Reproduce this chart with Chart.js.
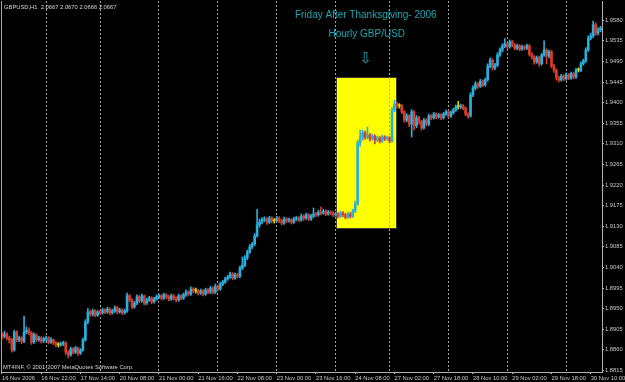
<!DOCTYPE html>
<html>
<head>
<meta charset="utf-8">
<script src="https://cdn.jsdelivr.net/npm/chart.js@4.4.1/dist/chart.umd.min.js"></script>
<style>
  html, body { margin: 0; padding: 0; background: #000; }
</style>
</head>
<body>
<canvas id="chart" width="625" height="382"></canvas>
<script>
// GBPUSD H1, 16 Nov 2006 06:00 .. 30 Nov 2006 14:00, one entry per hourly bar
const opens = [
  1.8893,1.8890,1.8895,1.8886,1.8882,1.8860,1.8899,1.8882,1.8886,1.8879,
  1.8899,1.8903,1.8897,1.8877,1.8893,1.8882,1.8886,1.8879,1.8884,1.8886,
  1.8877,1.8882,1.8875,1.8871,1.8871,1.8873,1.8875,1.8855,1.8849,1.8862,
  1.8855,1.8864,1.8853,1.8860,1.8882,1.8921,1.8943,1.8938,1.8945,1.8936,
  1.8943,1.8941,1.8947,1.8943,1.8949,1.8941,1.8945,1.8952,1.8943,1.8947,
  1.8941,1.8945,1.8978,1.8969,1.8954,1.8962,1.8976,1.8967,1.8978,1.8962,
  1.8969,1.8973,1.8965,1.8971,1.8976,1.8978,1.8973,1.8980,1.8976,1.8971,
  1.8978,1.8973,1.8969,1.8978,1.8973,1.8980,1.8986,1.8982,1.8993,1.8989,
  1.8989,1.8984,1.8989,1.8982,1.8991,1.8986,1.8995,1.8986,1.8999,1.8993,
  1.9004,1.9008,1.9015,1.9019,1.9026,1.9017,1.9024,1.9021,1.9039,1.9045,
  1.9061,1.9074,1.9085,1.9091,1.9109,1.9133,1.9139,1.9144,1.9146,1.9139,
  1.9148,1.9142,1.9142,1.9148,1.9142,1.9137,1.9146,1.9142,1.9144,1.9139,
  1.9146,1.9148,1.9144,1.9152,1.9148,1.9155,1.9146,1.9152,1.9157,1.9155,
  1.9161,1.9159,1.9163,1.9157,1.9161,1.9159,1.9155,1.9157,1.9152,1.9159,
  1.9155,1.9150,1.9157,1.9152,1.9163,1.9179,1.9312,1.9323,1.9334,1.9325,
  1.9329,1.9321,1.9327,1.9319,1.9323,1.9316,1.9325,1.9321,1.9323,1.9316,
  1.9384,1.9397,1.9393,1.9393,1.9380,1.9362,1.9371,1.9353,1.9380,1.9349,
  1.9367,1.9358,1.9345,1.9362,1.9353,1.9371,1.9367,1.9375,1.9369,1.9373,
  1.9367,1.9375,1.9380,1.9371,1.9378,1.9384,1.9391,1.9391,1.9393,1.9388,
  1.9375,1.9371,1.9417,1.9432,1.9441,1.9436,1.9447,1.9439,1.9450,1.9480,
  1.9493,1.9476,1.9482,1.9504,1.9515,1.9524,1.9528,1.9522,1.9533,1.9526,
  1.9519,1.9524,1.9517,1.9522,1.9519,1.9524,1.9506,1.9500,1.9489,1.9498,
  1.9485,1.9504,1.9515,1.9502,1.9511,1.9480,1.9471,1.9454,1.9450,1.9458,
  1.9452,1.9461,1.9454,1.9463,1.9456,1.9471,1.9471,1.9485,1.9491,1.9515,
  1.9541,1.9546,1.9570,1.9552,1.9559
];
const highs = [
  1.8898,1.8901,1.8898,1.8890,1.8885,1.8903,1.8902,1.8890,1.8889,1.8934,
  1.8910,1.8908,1.8900,1.8897,1.8895,1.8890,1.8889,1.8888,1.8890,1.8889,
  1.8887,1.8884,1.8878,1.8876,1.8877,1.8879,1.8878,1.8858,1.8866,1.8865,
  1.8868,1.8866,1.8863,1.8886,1.8926,1.8950,1.8947,1.8949,1.8948,1.8946,
  1.8947,1.8951,1.8950,1.8953,1.8952,1.8949,1.8956,1.8955,1.8951,1.8950,
  1.8949,1.8984,1.8981,1.8972,1.8966,1.8980,1.8979,1.8982,1.8980,1.8973,
  1.8977,1.8976,1.8975,1.8980,1.8982,1.8981,1.8984,1.8983,1.8979,1.8982,
  1.8981,1.8976,1.8982,1.8981,1.8984,1.8991,1.8989,1.8998,1.8996,1.8995,
  1.8992,1.8993,1.8992,1.8995,1.8994,1.8999,1.8998,1.9004,1.9002,1.9008,
  1.9012,1.9019,1.9023,1.9030,1.9029,1.9028,1.9027,1.9043,1.9063,1.9066,
  1.9078,1.9090,1.9095,1.9114,1.9167,1.9146,1.9149,1.9151,1.9149,1.9152,
  1.9151,1.9147,1.9152,1.9151,1.9145,1.9150,1.9149,1.9148,1.9147,1.9150,
  1.9152,1.9151,1.9157,1.9155,1.9159,1.9158,1.9156,1.9170,1.9160,1.9165,
  1.9172,1.9167,1.9166,1.9165,1.9164,1.9162,1.9161,1.9160,1.9163,1.9162,
  1.9158,1.9161,1.9160,1.9167,1.9185,1.9318,1.9340,1.9340,1.9338,1.9347,
  1.9333,1.9331,1.9330,1.9327,1.9326,1.9329,1.9328,1.9327,1.9326,1.9390,
  1.9405,1.9401,1.9398,1.9396,1.9383,1.9376,1.9374,1.9385,1.9383,1.9372,
  1.9370,1.9361,1.9366,1.9365,1.9375,1.9374,1.9379,1.9378,1.9377,1.9376,
  1.9379,1.9384,1.9383,1.9382,1.9388,1.9395,1.9403,1.9397,1.9396,1.9391,
  1.9378,1.9422,1.9437,1.9446,1.9444,1.9451,1.9450,1.9454,1.9485,1.9498,
  1.9496,1.9486,1.9509,1.9520,1.9529,1.9540,1.9531,1.9537,1.9536,1.9529,
  1.9528,1.9527,1.9526,1.9525,1.9528,1.9527,1.9509,1.9503,1.9502,1.9501,
  1.9508,1.9535,1.9518,1.9515,1.9514,1.9484,1.9474,1.9458,1.9462,1.9461,
  1.9465,1.9464,1.9467,1.9466,1.9475,1.9476,1.9489,1.9495,1.9520,1.9546,
  1.9552,1.9578,1.9575,1.9564,1.9567
];
const lows = [
  1.8884,1.8886,1.8882,1.8875,1.8855,1.8857,1.8878,1.8878,1.8874,1.8876,
  1.8895,1.8893,1.8872,1.8874,1.8878,1.8879,1.8875,1.8876,1.8880,1.8873,
  1.8874,1.8871,1.8867,1.8866,1.8868,1.8869,1.8850,1.8843,1.8846,1.8851,
  1.8852,1.8848,1.8850,1.8857,1.8879,1.8917,1.8933,1.8934,1.8932,1.8933,
  1.8937,1.8938,1.8939,1.8940,1.8937,1.8938,1.8942,1.8939,1.8940,1.8937,
  1.8938,1.8942,1.8965,1.8950,1.8951,1.8959,1.8963,1.8964,1.8958,1.8959,
  1.8966,1.8961,1.8962,1.8968,1.8972,1.8969,1.8970,1.8972,1.8967,1.8968,
  1.8969,1.8965,1.8966,1.8969,1.8970,1.8977,1.8978,1.8979,1.8985,1.8984,
  1.8980,1.8981,1.8978,1.8979,1.8982,1.8983,1.8982,1.8983,1.8989,1.8990,
  1.9000,1.9005,1.9012,1.9016,1.9013,1.9014,1.9017,1.9018,1.9035,1.9042,
  1.9057,1.9071,1.9081,1.9088,1.9106,1.9128,1.9135,1.9140,1.9134,1.9136,
  1.9138,1.9137,1.9139,1.9138,1.9133,1.9134,1.9138,1.9139,1.9135,1.9136,
  1.9142,1.9140,1.9141,1.9143,1.9145,1.9142,1.9143,1.9149,1.9151,1.9152,
  1.9155,1.9156,1.9153,1.9154,1.9155,1.9151,1.9152,1.9148,1.9149,1.9151,
  1.9146,1.9147,1.9148,1.9149,1.9160,1.9176,1.9305,1.9318,1.9320,1.9321,
  1.9316,1.9318,1.9310,1.9315,1.9312,1.9313,1.9317,1.9318,1.9312,1.9313,
  1.9380,1.9388,1.9388,1.9376,1.9357,1.9358,1.9348,1.9325,1.9340,1.9345,
  1.9353,1.9340,1.9342,1.9349,1.9350,1.9363,1.9364,1.9365,1.9366,1.9363,
  1.9364,1.9372,1.9367,1.9368,1.9375,1.9381,1.9386,1.9387,1.9384,1.9371,
  1.9366,1.9368,1.9413,1.9428,1.9431,1.9433,1.9435,1.9436,1.9447,1.9476,
  1.9471,1.9472,1.9479,1.9501,1.9511,1.9520,1.9518,1.9519,1.9522,1.9515,
  1.9516,1.9513,1.9514,1.9515,1.9516,1.9502,1.9495,1.9484,1.9486,1.9480,
  1.9482,1.9501,1.9485,1.9498,1.9476,1.9466,1.9449,1.9445,1.9447,1.9448,
  1.9449,1.9450,1.9451,1.9452,1.9453,1.9467,1.9468,1.9482,1.9488,1.9512,
  1.9537,1.9542,1.9547,1.9548,1.9555
];
const closes = [
  1.8890,1.8895,1.8886,1.8882,1.8860,1.8899,1.8882,1.8886,1.8879,1.8899,
  1.8903,1.8897,1.8877,1.8893,1.8882,1.8886,1.8879,1.8884,1.8886,1.8877,
  1.8882,1.8875,1.8871,1.8871,1.8873,1.8875,1.8855,1.8849,1.8862,1.8855,
  1.8864,1.8853,1.8860,1.8882,1.8921,1.8943,1.8938,1.8945,1.8936,1.8943,
  1.8941,1.8947,1.8943,1.8949,1.8941,1.8945,1.8952,1.8943,1.8947,1.8941,
  1.8945,1.8978,1.8969,1.8954,1.8962,1.8976,1.8967,1.8978,1.8962,1.8969,
  1.8973,1.8965,1.8971,1.8976,1.8978,1.8973,1.8980,1.8976,1.8971,1.8978,
  1.8973,1.8969,1.8978,1.8973,1.8980,1.8986,1.8982,1.8993,1.8989,1.8989,
  1.8984,1.8989,1.8982,1.8991,1.8986,1.8995,1.8986,1.8999,1.8993,1.9004,
  1.9008,1.9015,1.9019,1.9026,1.9017,1.9024,1.9021,1.9039,1.9045,1.9061,
  1.9074,1.9085,1.9091,1.9109,1.9133,1.9139,1.9144,1.9146,1.9139,1.9148,
  1.9142,1.9142,1.9148,1.9142,1.9137,1.9146,1.9142,1.9144,1.9139,1.9146,
  1.9148,1.9144,1.9152,1.9148,1.9155,1.9146,1.9152,1.9157,1.9155,1.9161,
  1.9159,1.9163,1.9157,1.9161,1.9159,1.9155,1.9157,1.9152,1.9159,1.9155,
  1.9150,1.9157,1.9152,1.9163,1.9179,1.9312,1.9323,1.9334,1.9325,1.9329,
  1.9321,1.9327,1.9319,1.9323,1.9316,1.9325,1.9321,1.9323,1.9316,1.9384,
  1.9397,1.9393,1.9393,1.9380,1.9362,1.9371,1.9353,1.9380,1.9349,1.9367,
  1.9358,1.9345,1.9362,1.9353,1.9371,1.9367,1.9375,1.9369,1.9373,1.9367,
  1.9375,1.9380,1.9371,1.9378,1.9384,1.9391,1.9391,1.9393,1.9388,1.9375,
  1.9371,1.9417,1.9432,1.9441,1.9436,1.9447,1.9439,1.9450,1.9480,1.9493,
  1.9476,1.9482,1.9504,1.9515,1.9524,1.9528,1.9522,1.9533,1.9526,1.9519,
  1.9524,1.9517,1.9522,1.9519,1.9524,1.9506,1.9500,1.9489,1.9498,1.9485,
  1.9504,1.9515,1.9502,1.9511,1.9480,1.9471,1.9454,1.9450,1.9458,1.9452,
  1.9461,1.9454,1.9463,1.9456,1.9471,1.9471,1.9485,1.9491,1.9515,1.9541,
  1.9546,1.9570,1.9552,1.9559,1.9563
];

// time scale labels sit every 16 bars
const timeTickBars = [0, 16, 32, 48, 64, 80, 96, 112, 128, 144, 160, 176, 192, 208, 224, 240];
const timeTickLabels = [
  '16 Nov 2006', '16 Nov 22:00', '17 Nov 14:00', '20 Nov 08:00', '21 Nov 00:00', '21 Nov 16:00',
  '22 Nov 08:00', '23 Nov 00:00', '23 Nov 16:00', '24 Nov 08:00', '27 Nov 02:00', '27 Nov 18:00',
  '28 Nov 10:00', '29 Nov 02:00', '29 Nov 18:00', '30 Nov 10:00'
];
// bars where a new day starts (dotted separators)
const dayStartBars = [18, 40, 64, 88, 112, 136, 158, 182, 206, 230];
const priceTicks = [
  1.8815, 1.8860, 1.8905, 1.8950, 1.8995, 1.9040, 1.9085, 1.9130, 1.9175,
  1.9220, 1.9265, 1.9310, 1.9355, 1.9400, 1.9445, 1.9490, 1.9535, 1.9580
];

const UP = '#2aaedc';
const DOWN = '#dc3b2b';
const DOJI = '#d6d600';
const AXIS_TEXT = '#c8c8c8';
const NOTE_COLOR = '#1ea5b0';
const FONT = 'Liberation Sans';
const SMALL_SIZE = 5.8;

// chart objects placed on the chart in time/price coordinates
const highlight = { fromBar: 136, toBar: 161, low: 1.9124, high: 1.9456 };
const notes = [
  { text: 'Friday After Thanksgiving- 2006', bar: 148.3, price: 1.9591, size: 10 },
  { text: 'Hourly GBP/USD', bar: 148.7, price: 1.9550, size: 10 },
  { text: '\u21E9', bar: 148.3, price: 1.9495, size: 15 }
];

const candleColors = closes.map((c, i) => c > opens[i] ? UP : (c < opens[i] ? DOWN : DOJI));

const mt4Objects = {
    id: 'mt4Objects',
    beforeDraw(chart) {
        const { ctx, scales } = chart;
        ctx.save();
        ctx.fillStyle = '#000';
        ctx.fillRect(0, 0, chart.width, chart.height);
        // highlight rectangle, drawn behind grid and candles
        const x0 = Math.round(scales.x.getPixelForValue(highlight.fromBar));
        const x1 = Math.round(scales.x.getPixelForValue(highlight.toBar));
        const y0 = Math.round(scales.y.getPixelForValue(highlight.high));
        const y1 = Math.round(scales.y.getPixelForValue(highlight.low));
        ctx.fillStyle = '#ffff00';
        ctx.fillRect(x0, y0, x1 - x0, y1 - y0);
        ctx.strokeStyle = '#3c3c28';
        ctx.lineWidth = 1;
        ctx.strokeRect(x0 + 0.5, y0 + 0.5, x1 - x0 - 1, y1 - y0 - 1);
        ctx.restore();
    },
    afterDraw(chart) {
        const { ctx, scales, chartArea } = chart;
        ctx.save();
        // left frame line
        ctx.strokeStyle = '#a8a8a8';
        ctx.lineWidth = 1;
        ctx.beginPath();
        ctx.moveTo(chartArea.left + 0.5, chartArea.top);
        ctx.lineTo(chartArea.left + 0.5, chartArea.bottom);
        ctx.stroke();

        ctx.textBaseline = 'middle';
        ctx.textAlign = 'center';
        ctx.fillStyle = NOTE_COLOR;
        notes.forEach(n => {
            ctx.font = n.size + 'px ' + (n.text === '\u21E9' ? 'DejaVu Sans' : FONT);
            ctx.fillText(n.text, scales.x.getPixelForValue(n.bar), scales.y.getPixelForValue(n.price));
        });

        ctx.textAlign = 'left';
        ctx.fillStyle = '#d8d8d8';
        ctx.font = SMALL_SIZE + 'px ' + FONT;
        ctx.fillText('GBPUSD,H1  2.0667 2.0670 2.0666 2.0667', 4, 7);
        ctx.fillText('MT4INF, \u00A9 2001-2007 MetaQuotes Software Corp.', 3, 367);
        ctx.restore();
    }
};

new Chart(document.getElementById('chart'), {
    type: 'bar',
    data: {
        datasets: [{
            label: 'Range',
            data: highs.map((h, i) => ({ x: i, y: [lows[i], h] })),
            backgroundColor: candleColors,
            barThickness: 1,
            order: 2
        }, {
            label: 'Body',
            data: closes.map((c, i) => ({ x: i, y: [opens[i], c] })),
            backgroundColor: candleColors,
            barThickness: 2,
            minBarLength: 1,
            order: 1
        }]
    },
    options: {
        responsive: false,
        animation: false,
        layout: { padding: { left: 1, top: 1, right: 0, bottom: 0 } },
        datasets: { bar: { grouped: false } },
        scales: {
            x: {
                type: 'linear',
                position: 'bottom',
                offset: false,
                min: -0.4,
                max: 244.6,
                afterBuildTicks: scale => { scale.ticks = timeTickBars.map(v => ({ value: v })); },
                afterFit: scale => { scale.height = 10; scale.paddingLeft = 0; scale.paddingRight = 0; },
                ticks: {
                    autoSkip: false,
                    maxRotation: 0,
                    align: 'start',
                    padding: 1,
                    color: AXIS_TEXT,
                    font: { family: FONT, size: SMALL_SIZE },
                    callback: (v, i) => timeTickLabels[i]
                },
                grid: { offset: false, drawOnChartArea: false, drawTicks: true, tickLength: 2, color: '#c0c0c0' },
                border: { display: true, color: '#b0b0b0' }
            },
            days: {
                type: 'linear',
                axis: 'x',
                position: 'top',
                offset: false,
                min: -0.4,
                max: 244.6,
                afterBuildTicks: scale => { scale.ticks = dayStartBars.map(v => ({ value: v })); },
                afterFit: scale => { scale.height = 0; scale.paddingLeft = 0; scale.paddingRight = 0; },
                ticks: { display: false },
                grid: { offset: false, drawOnChartArea: true, drawTicks: false, color: '#a4a4a4' },
                border: { display: false, dash: [2, 2] }
            },
            y: {
                type: 'linear',
                position: 'right',
                min: 1.88117,
                max: 1.96221,
                afterBuildTicks: scale => { scale.ticks = priceTicks.map(v => ({ value: v })); },
                afterFit: scale => { scale.width = 23; scale.paddingTop = 0; scale.paddingBottom = 0; },
                ticks: {
                    padding: 1,
                    color: AXIS_TEXT,
                    font: { family: FONT, size: SMALL_SIZE },
                    callback: v => v.toFixed(4)
                },
                grid: { drawOnChartArea: false, drawTicks: true, tickLength: 2, color: '#c0c0c0' },
                border: { display: true, color: '#b0b0b0' }
            }
        },
        plugins: {
            legend: { display: false },
            tooltip: { enabled: false }
        }
    },
    plugins: [mt4Objects]
});
</script>
</body>
</html>
